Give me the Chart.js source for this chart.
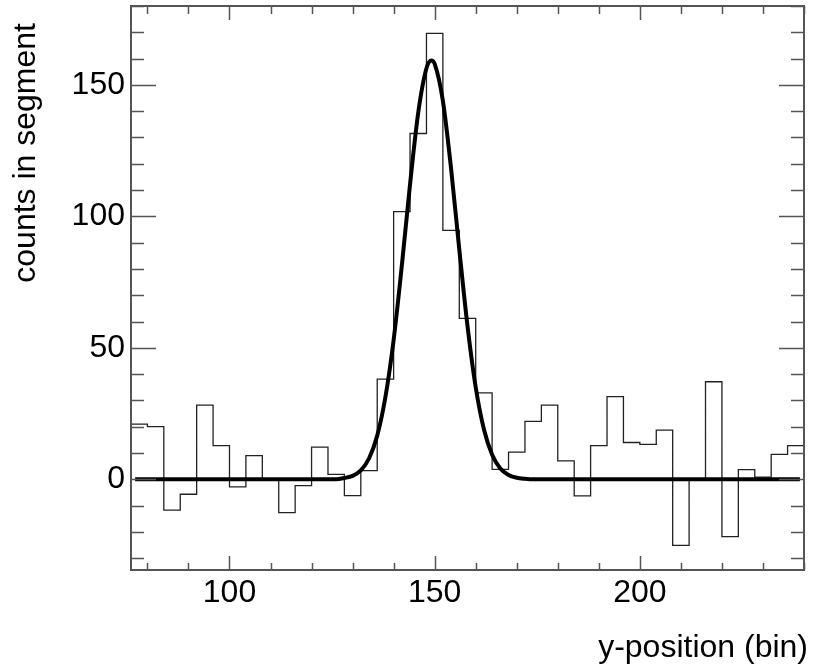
<!DOCTYPE html>
<html>
<head>
<meta charset="utf-8">
<title>counts in segment</title>
<script src="https://cdn.jsdelivr.net/npm/chart.js@4/dist/chart.umd.min.js"></script>
<style>
  html, body { margin: 0; padding: 0; background: #fff; }
  #wrap { width: 813px; height: 671px; }
</style>
</head>
<body>
<div id="wrap"><canvas id="chartSegment" width="813" height="671"></canvas></div>
<script>
// histogram: lower bin edges (bin width 4) and counts per bin
const BIN_WIDTH = 4;
const binLow = [76, 80, 84, 88, 92, 96, 100, 104, 108, 112, 116, 120, 124, 128,
  132, 136, 140, 144, 148, 152, 156, 160, 164, 168, 172, 176, 180, 184, 188,
  192, 196, 200, 204, 208, 212, 216, 220, 224, 228, 232, 236];
const counts = [21, 20, -11.7, -5.7, 28.2, 12.8, -2.9, 9, 0, -12.7, -2.4, 12.2, 1.9, -6.2,
  3.3, 38.1, 101.8, 131.5, 169.6, 94.7, 61.2, 32.9, 3.8, 10.3, 22, 28.2, 7, -6.3, 12.8,
  31.4, 14, 13.3, 18.7, -25.1, 0, 37.1, -21.8, 3.7, 0.8, 9.5, 12.8];

// fitted curve
const fitX = [77, 126, 128, 130, 132, 134, 136, 138, 140, 142, 144, 146, 148, 149.2,
  150, 152, 154, 156, 158, 160, 162, 164, 166, 168, 170, 172, 174, 239];
const fitY = [0, 0, 0.5, 1.3, 3.4, 7.9, 16.6, 31.3, 53, 81.3, 112.2, 139.5, 156.3, 159.3,
  158, 143.9, 118.1, 87.4, 58.3, 35, 19, 9.3, 4.1, 1.6, 0.6, 0.2, 0, 0];

const xTicks = [100, 150, 200];
const yTicks = [0, 50, 100, 150];

const FONT = "'Liberation Sans', Arial, Helvetica, sans-serif";
const FRAME = "#555555";

// histogram as a step line: point at each lower edge, plus the last upper edge
const histPoints = binLow.map((x, i) => ({ x, y: counts[i] }));
histPoints.push({ x: binLow[binLow.length - 1] + BIN_WIDTH, y: counts[counts.length - 1] });
const fitPoints = fitX.map((x, i) => ({ x, y: fitY[i] }));

// frame + inward ticks on all four sides, and the axis titles
const framePlugin = {
  id: "frameTicks",
  afterDatasetsDraw(chart) {
    const { ctx, chartArea: a, scales } = chart;
    const xs = scales.x, ys = scales.y;
    ctx.save();
    ctx.strokeStyle = FRAME;
    ctx.lineWidth = 1.5;
    ctx.beginPath();
    for (let v = Math.ceil(xs.min / 10) * 10; v <= xs.max; v += 10) {
      const px = Math.round(xs.getPixelForValue(v)) + 0.5;
      const major = v % 50 === 0;
      ctx.moveTo(px, a.bottom); ctx.lineTo(px, a.bottom - (major ? 14 : 7));
      ctx.moveTo(px, a.top); ctx.lineTo(px, a.top + (major ? 14 : 8));
    }
    for (let v = Math.ceil(ys.min / 10) * 10; v <= ys.max; v += 10) {
      const py = Math.round(ys.getPixelForValue(v)) + 0.5;
      const major = v % 50 === 0;
      ctx.moveTo(a.left, py); ctx.lineTo(a.left + (major ? 25 : 13), py);
      ctx.moveTo(a.right, py); ctx.lineTo(a.right - (major ? 25 : 13), py);
    }
    ctx.stroke();
    ctx.lineWidth = 2;
    ctx.strokeRect(a.left, a.top, a.right - a.left, a.bottom - a.top);

    ctx.fillStyle = "#000";
    ctx.font = "32px " + FONT;
    ctx.textAlign = "right";
    ctx.textBaseline = "alphabetic";
    ctx.fillText("y-position (bin)", 808, 657);

    ctx.translate(35, 23);
    ctx.rotate(-Math.PI / 2);
    ctx.fillText("counts in segment", 0, 0);
    ctx.restore();
  }
};

new Chart(document.getElementById("chartSegment"), {
  type: "line",
  data: {
    datasets: [
      {
        data: fitPoints,
        borderColor: "#000",
        borderWidth: 4,
        pointRadius: 0,
        cubicInterpolationMode: "monotone",
      },
      {
        data: histPoints,
        borderColor: "#222",
        borderWidth: 1.3,
        pointRadius: 0,
        stepped: "before",
      },
    ],
  },
  options: {
    responsive: false,
    animation: false,
    layout: { padding: { top: 6, right: 9, left: 0, bottom: 0 } },
    plugins: { legend: { display: false }, tooltip: { enabled: false } },
    scales: {
      x: {
        type: "linear",
        min: 76,
        max: 240,
        grid: { display: false, drawTicks: false },
        border: { display: false },
        afterBuildTicks: s => { s.ticks = xTicks.map(v => ({ value: v })); },
        afterFit: s => { s.height = 101; s.paddingLeft = 0; s.paddingRight = 0; },
        ticks: { padding: 4, color: "#000", font: { size: 32, family: FONT }, maxRotation: 0 },
      },
      y: {
        type: "linear",
        min: -34.5,
        max: 180,
        grid: { display: false, drawTicks: false },
        border: { display: false },
        afterBuildTicks: s => { s.ticks = yTicks.map(v => ({ value: v })); },
        afterFit: s => { s.width = 131; s.paddingTop = 0; s.paddingBottom = 0; },
        ticks: { padding: 6, color: "#000", font: { size: 32, family: FONT } },
      },
    },
  },
  plugins: [framePlugin],
});
</script>
</body>
</html>
